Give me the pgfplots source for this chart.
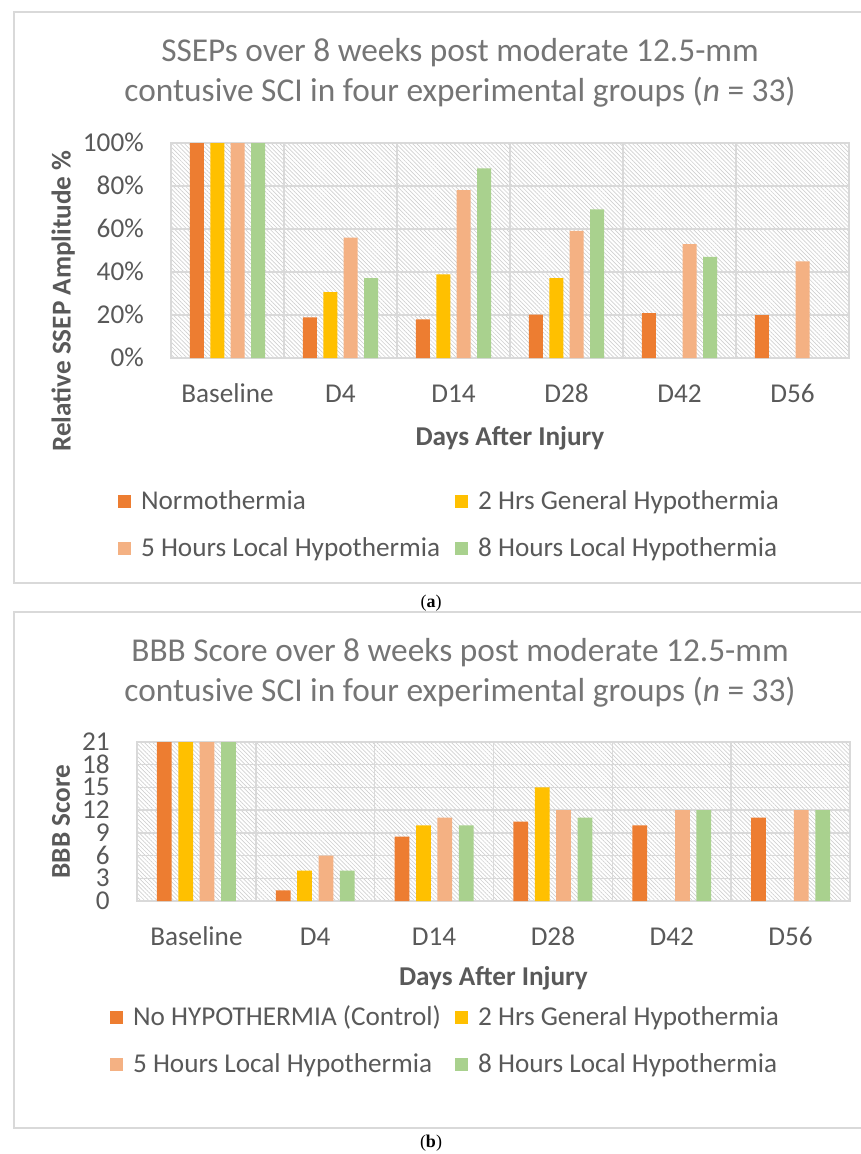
\documentclass[border=0pt]{standalone}
\usepackage{pgfplots}
\pgfplotsset{compat=1.18}
\usepackage{fontspec}
\setmainfont{Carlito}
\newfontfamily\capfont{Liberation Serif}
\usetikzlibrary{patterns.meta}
\definecolor{cA}{HTML}{ED7D31}
\definecolor{cB}{HTML}{FFC000}
\definecolor{cC}{HTML}{F4B183}
\definecolor{cD}{HTML}{A9D18E}
\definecolor{gridgray}{HTML}{D9D9D9}
\definecolor{txtgray}{HTML}{595959}
\definecolor{titlegray}{HTML}{757575}
\definecolor{hatch}{HTML}{D0D0D0}
\newcommand{\lf}{\fontsize{20.4pt}{24pt}\selectfont}
\newcommand{\tf}{\fontsize{25pt}{30pt}\selectfont}
\pgfplotsset{
 excelbar/.style={
  scale only axis, anchor=south west,
  xmin=-0.5, xmax=5.5,
  xtick={0,...,5}, xticklabels={Baseline,D4,D14,D28,D42,D56},
  minor xtick={0.5,1.5,2.5,3.5,4.5},
  xminorgrids=true, ymajorgrids=true, xmajorgrids=false,
  major tick length=0pt, minor tick length=0pt,
  grid style={draw=gridgray, line width=1.1pt},
  minor grid style={draw=gridgray, line width=1.1pt},
  axis line style={draw=gridgray, line width=1.1pt},
  axis background/.style={pattern={Lines[angle=-45,distance=2.2pt,line width=0.5pt]}, pattern color=hatch},
  tick label style={font=\lf, text=txtgray, inner sep=0pt},
  /pgf/number format/assume math mode=true,
  yticklabel style={anchor=base east, xshift=-20.25pt, yshift=-6.4pt},
  xticklabel style={anchor=base, yshift=-33.4pt},
  label style={font=\lf\bfseries, text=txtgray, inner sep=0pt},
  legend cell align=left,
  legend columns=2,
  legend style={draw=none, fill=none, inner sep=0pt, outer sep=0pt, anchor=north west, row sep=15.25pt, font=\lf, text=txtgray, nodes={inner sep=0pt, text height=15pt, text depth=5pt}, /tikz/every odd column/.append style={column sep=7.3pt}},
 },
 mybar/.style 2 args={ybar, bar width=0.124, bar shift=#2, draw=none, fill=#1,
  legend image code/.code={\fill[#1] (0pt,-3.6pt) rectangle (10pt,6.2pt);}},
}
\begin{document}
\begin{tikzpicture}
\useasboundingbox (0,0) rectangle (645.75pt,-865.5pt);
\begin{scope}[x=0.75pt,y=-0.75pt]
\draw[gridgray, line width=1pt] (861,12) -- (14,12) -- (14,583) -- (861,583);
\draw[gridgray, line width=1pt] (861,612) -- (14,612) -- (14,1128) -- (861,1128);
\node[anchor=base, font=\tf, text=titlegray, inner sep=0pt] at (460,61.5) {SSEPs over 8 weeks post moderate 12.5-mm};
\node[anchor=base, font=\tf, text=titlegray, inner sep=0pt] at (460,101.7) {contusive SCI in four experimental groups (\textit{n} = 33)};
\node[anchor=base, font=\tf, text=titlegray, inner sep=0pt] at (460,661.5) {BBB Score over 8 weeks post moderate 12.5-mm};
\node[anchor=base, font=\tf, text=titlegray, inner sep=0pt] at (460,701.7) {contusive SCI in four experimental groups (\textit{n} = 33)};
\node[anchor=base, font=\capfont\fontsize{13.5pt}{16pt}\selectfont, inner sep=0pt] at (431,607) {(\textbf{a})};
\node[anchor=base, font=\capfont\fontsize{13.5pt}{16pt}\selectfont, inner sep=0pt] at (431,1147) {(\textbf{b})};
\end{scope}

\begin{axis}[excelbar, at={(128.25pt,-268.5pt)}, width=508.5pt, height=161.25pt,
  ymin=0, ymax=100, ytick={0,20,...,100},
  yticklabel={\pgfmathprintnumber{\tick}\%},
  xlabel={Days After Injury}, ylabel={Relative SSEP Amplitude \%},
  xlabel style={at={(axis description cs:0.5,-0.407)}, anchor=base},
  ylabel style={at={(axis description cs:-0.1482,0.265)}, anchor=base},
  legend style={at={(axis description cs:-0.07817,-0.6116)}}]
\addplot[mybar={cA}{-0.27}] coordinates {(0,100) (1,18.9) (2,18) (3,20.2) (4,20.9) (5,20)};
\addlegendentry{\makebox[235.5pt][l]{Normothermia}}
\addplot[mybar={cB}{-0.09}] coordinates {(0,100) (1,30.7) (2,38.9) (3,37.2)};
\addlegendentry{2 Hrs General Hypothermia}
\addplot[mybar={cC}{0.09}] coordinates {(0,100) (1,56) (2,78.1) (3,59.1) (4,53) (5,45)};
\addlegendentry{\makebox[235.5pt][l]{5 Hours Local Hypothermia}}
\addplot[mybar={cD}{0.27}] coordinates {(0,100) (1,37.1) (2,88.2) (3,69.1) (4,47)};
\addlegendentry{8 Hours Local Hypothermia}
\end{axis}

\begin{axis}[excelbar, at={(102.75pt,-675.75pt)}, width=534.75pt, height=119.25pt,
  ymin=0, ymax=21, ytick={0,3,...,21},
  xlabel={Days After Injury}, ylabel={BBB Score},
  xlabel style={at={(axis description cs:0.5,-0.531)}, anchor=base},
  ylabel style={at={(axis description cs:-0.094,0.5)}, anchor=base},
  legend style={at={(axis description cs:-0.03787,-0.6572)}}]
\addplot[mybar={cA}{-0.27}] coordinates {(0,21) (1,1.4) (2,8.5) (3,10.5) (4,10) (5,11)};
\addlegendentry{\makebox[241.5pt][l]{No HYPOTHERMIA (Control)}}
\addplot[mybar={cB}{-0.09}] coordinates {(0,21) (1,4) (2,10) (3,15)};
\addlegendentry{2 Hrs General Hypothermia}
\addplot[mybar={cC}{0.09}] coordinates {(0,21) (1,6) (2,11) (3,12) (4,12) (5,12)};
\addlegendentry{\makebox[241.5pt][l]{5 Hours Local Hypothermia}}
\addplot[mybar={cD}{0.27}] coordinates {(0,21) (1,4) (2,10) (3,11) (4,12) (5,12)};
\addlegendentry{8 Hours Local Hypothermia}
\end{axis}
\end{tikzpicture}
\end{document}
